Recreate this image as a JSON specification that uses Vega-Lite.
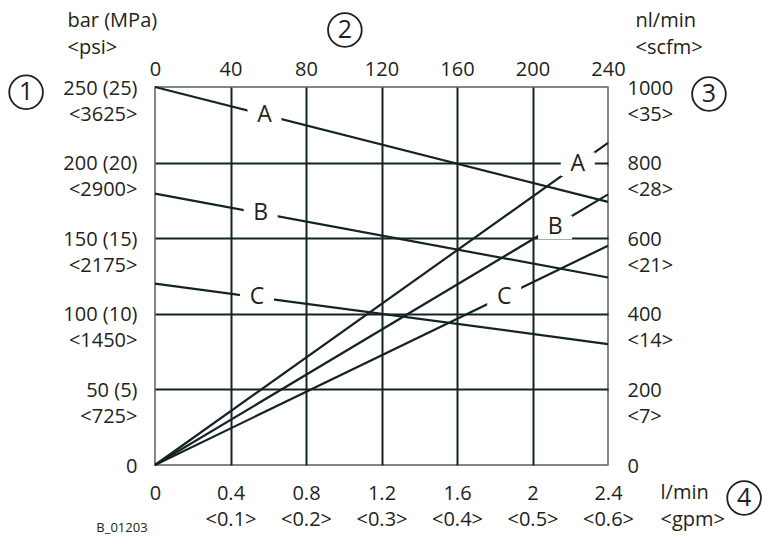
{
  "$schema": "https://vega.github.io/schema/vega-lite/v6.json",
  "width": 453,
  "height": 378,
  "autosize": {"type": "none"},
  "padding": {"left": 155, "top": 87, "right": 157, "bottom": 75},
  "config": {
    "view": {"stroke": "#56625f", "strokeWidth": 1.5},
    "font": "Open Sans",
    "axis": {
      "labelFont": "Open Sans",
      "labelFontSize": 20,
      "labelColor": "#231f20",
      "titleFont": "Open Sans",
      "titleFontSize": 20,
      "titleFontWeight": "normal",
      "titleColor": "#231f20",
      "domain": false,
      "ticks": false,
      "tickSize": 0,
      "labelLineHeight": 26,
      "titleLineHeight": 27,
      "labelOverlap": false,
      "labelFlush": false,
      "labelBound": false
    }
  },
  "datasets": {
    "lines": [
      {"series": "pressure A", "x": 0, "y": 250},
      {"series": "pressure A", "x": 2.4, "y": 174},
      {"series": "pressure B", "x": 0, "y": 179.5},
      {"series": "pressure B", "x": 2.4, "y": 124},
      {"series": "pressure C", "x": 0, "y": 120},
      {"series": "pressure C", "x": 2.4, "y": 80},
      {"series": "flow A", "x": 0, "y": 0},
      {"series": "flow A", "x": 2.4, "y": 213},
      {"series": "flow B", "x": 0, "y": 0},
      {"series": "flow B", "x": 2.4, "y": 179},
      {"series": "flow C", "x": 0, "y": 0},
      {"series": "flow C", "x": 2.4, "y": 145}
    ],
    "labels": [
      {"label": "A", "x": 0.58, "y": 231.4},
      {"label": "B", "x": 0.56, "y": 166.4},
      {"label": "C", "x": 0.54, "y": 110.9},
      {"label": "A", "x": 2.24, "y": 199},
      {"label": "B", "x": 2.12, "y": 157.2},
      {"label": "C", "x": 1.85, "y": 110.8}
    ],
    "callouts": [
      {"num": "1", "x": -0.683, "y": 246.5},
      {"num": "2", "x": 1.006, "y": 287.7},
      {"num": "3", "x": 2.935, "y": 245.4},
      {"num": "4", "x": 3.121, "y": -21.8}
    ],
    "code": [
      {"text": "B_01203", "x": -0.175, "y": -41.7}
    ]
  },
  "layer": [
    {
      "data": {"name": "lines"},
      "mark": {"type": "line", "stroke": "#142324", "strokeWidth": 2.2},
      "encoding": {
        "x": {
          "field": "x", "type": "quantitative",
          "scale": {"domain": [0, 2.4], "nice": false, "zero": false},
          "axis": {
            "orient": "bottom",
            "values": [0, 0.4, 0.8, 1.2, 1.6, 2, 2.4],
            "grid": true,
            "gridColor": {"condition": {"test": "datum.value < 0.01 || datum.value > 2.39", "value": "transparent"}, "value": "#142324"},
            "gridWidth": 2,
            "labelPadding": 18,
            "labelBaseline": "top",
            "labelExpr": "datum.value == 0 ? '0' : [format(datum.value, '.1~f'), '<' + format(datum.value / 4, '.1f') + '>']",
            "title": ["l/min", "<gpm>"],
            "titleX": 505,
            "titleY": 17,
            "titleAlign": "left",
            "titleBaseline": "top"
          }
        },
        "y": {
          "field": "y", "type": "quantitative",
          "scale": {"domain": [0, 250], "nice": false, "zero": false},
          "axis": {
            "orient": "left",
            "values": [0, 50, 100, 150, 200, 250],
            "grid": true,
            "gridColor": {"condition": {"test": "datum.value < 1 || datum.value > 249", "value": "transparent"}, "value": "#142324"},
            "gridWidth": 2,
            "labelPadding": 18,
            "labelAlign": "right",
            "labelBaseline": "top",
            "labelOffset": -9,
            "labelExpr": "datum.value == 0 ? '0\u00a0' : [datum.value + ' (' + datum.value / 10 + ')', '<' + format(datum.value * 14.5, '.0f') + '>\u00a0\u00a0']",
            "title": ["bar (MPa)", "<psi>"],
            "titleAngle": 0,
            "titleX": -88,
            "titleY": -77,
            "titleAlign": "left",
            "titleBaseline": "top"
          }
        },
        "detail": {"field": "series"}
      }
    },
    {
      "data": {"name": "labels"},
      "mark": {"type": "point", "shape": "M-1,-0.7L1,-0.7L1,0.7L-1,0.7Z", "filled": true, "fill": "white", "strokeWidth": 0, "opacity": 1, "size": 1156},
      "encoding": {
        "x": {
          "field": "x", "type": "quantitative",
          "scale": {"domain": [0, 2.4], "nice": false, "zero": false},
          "axis": {
            "orient": "top",
            "values": [0, 0.4, 0.8, 1.2, 1.6, 2, 2.4],
            "grid": false,
            "labelPadding": 8,
            "labelBaseline": "bottom",
            "labelExpr": "format(datum.value * 100, '.0f')",
            "title": null
          }
        },
        "y": {
          "field": "y", "type": "quantitative",
          "scale": {"domain": [0, 250], "nice": false, "zero": false},
          "axis": {
            "orient": "right",
            "values": [0, 50, 100, 150, 200, 250],
            "grid": false,
            "labelPadding": 19,
            "labelAlign": "left",
            "labelBaseline": "top",
            "labelOffset": -9,
            "labelExpr": "datum.value == 0 ? '0' : [format(datum.value * 4, '.0f'), '<' + format(datum.value * 0.14, '.0f') + '>']",
            "title": ["nl/min", "<scfm>"],
            "titleAngle": 0,
            "titleX": 27,
            "titleY": -77,
            "titleAlign": "left",
            "titleBaseline": "top"
          }
        }
      }
    },
    {
      "data": {"name": "labels"},
      "mark": {"type": "text", "font": "Open Sans", "fontSize": 23, "color": "#231f20", "align": "center", "baseline": "middle"},
      "encoding": {
        "x": {"field": "x", "type": "quantitative", "scale": {"domain": [0, 2.4], "nice": false, "zero": false}, "axis": null},
        "y": {"field": "y", "type": "quantitative", "scale": {"domain": [0, 250], "nice": false, "zero": false}, "axis": null},
        "text": {"field": "label"}
      }
    },
    {
      "data": {"name": "callouts"},
      "mark": {"type": "point", "shape": "circle", "filled": false, "stroke": "#231f20", "strokeWidth": 1.8, "size": 1134, "opacity": 1},
      "encoding": {
        "x": {"field": "x", "type": "quantitative", "scale": {"domain": [0, 2.4], "nice": false, "zero": false}, "axis": null},
        "y": {"field": "y", "type": "quantitative", "scale": {"domain": [0, 250], "nice": false, "zero": false}, "axis": null}
      }
    },
    {
      "data": {"name": "callouts"},
      "mark": {"type": "text", "font": "Open Sans", "fontSize": 25, "color": "#231f20", "align": "center", "baseline": "middle"},
      "encoding": {
        "x": {"field": "x", "type": "quantitative", "scale": {"domain": [0, 2.4], "nice": false, "zero": false}, "axis": null},
        "y": {"field": "y", "type": "quantitative", "scale": {"domain": [0, 250], "nice": false, "zero": false}, "axis": null},
        "text": {"field": "num"}
      }
    },
    {
      "data": {"name": "code"},
      "mark": {"type": "text", "font": "Open Sans", "fontSize": 13, "color": "#231f20", "align": "center", "baseline": "middle"},
      "encoding": {
        "x": {"field": "x", "type": "quantitative", "scale": {"domain": [0, 2.4], "nice": false, "zero": false}, "axis": null},
        "y": {"field": "y", "type": "quantitative", "scale": {"domain": [0, 250], "nice": false, "zero": false}, "axis": null},
        "text": {"field": "text"}
      }
    }
  ],
  "resolve": {"axis": {"x": "independent", "y": "independent"}}
}
